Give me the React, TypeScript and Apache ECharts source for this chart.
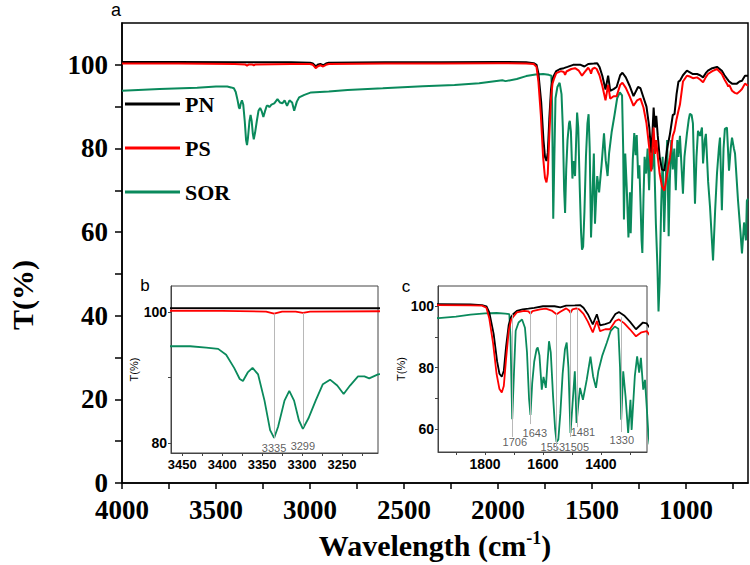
import React, { useEffect, useRef } from 'react';
import * as echarts from 'echarts';

// [wavenumber (cm-1), transmittance (%)]
const PN_SPECTRUM: number[][] = [
  [4000, 100.7], [3700, 100.7], [3400, 100.6], [3100, 100.6], [3000, 100.5], [2985, 100.3], [2975, 99.9],
  [2968, 99.6], [2960, 100.0], [2945, 100.2], [2930, 99.9], [2915, 100.3], [2900, 100.5], [2600, 100.6],
  [2300, 100.6], [2000, 100.7], [1850, 100.6], [1810, 100.4], [1795, 100.0], [1785, 98], [1770, 91],
  [1758, 82], [1750, 78], [1742, 77], [1735, 79], [1727, 87], [1718, 94], [1710, 96.5], [1703, 97.4],
  [1690, 98.5], [1670, 99], [1650, 99.2], [1630, 99.5], [1600, 100], [1560, 100], [1540, 99.6],
  [1520, 100.2], [1490, 100.3], [1472, 100.4], [1460, 99.5], [1445, 97.4], [1428, 94.1], [1414, 97.4],
  [1403, 93.8], [1385, 94.2], [1369, 94.7], [1350, 97.5], [1338, 98.1], [1320, 97], [1300, 95],
  [1279, 92.5], [1255, 94.7], [1242, 94.4], [1226, 92.2], [1210, 90], [1195, 85], [1185, 79],
  [1178, 84], [1172, 89.8], [1165, 85], [1158, 87.8], [1150, 83], [1140, 78], [1128, 75], [1115, 74.7],
  [1100, 80], [1085, 83.5], [1070, 88], [1061, 88.2], [1050, 93], [1040, 96], [1032, 96.2], [1016, 97.5],
  [995, 98.6], [979, 98.2], [963, 97.8], [941, 97.8], [925, 97.5], [909, 97], [895, 98], [883, 98.6],
  [860, 99.2], [835, 99.5], [809, 98.6], [795, 97.5], [782, 96.7], [770, 96], [755, 95.5], [740, 95.5],
  [729, 95.5], [715, 96], [702, 96.2], [686, 97.4], [670, 97.4],
];

const PS_SPECTRUM: number[][] = [
  [4000, 100.3], [3700, 100.3], [3400, 100.2], [3345, 100.1], [3335, 99.8], [3325, 100.1], [3308, 100.1],
  [3299, 99.9], [3290, 100.1], [3100, 100.2], [3000, 100.2], [2985, 100.0], [2975, 99.5], [2968, 99.2],
  [2960, 99.6], [2945, 99.9], [2930, 99.6], [2915, 100.0], [2900, 100.2], [2600, 100.3], [2300, 100.3],
  [2000, 100.4], [1850, 100.3], [1810, 100.2], [1795, 99.5], [1785, 96], [1772, 88], [1760, 78],
  [1750, 73], [1742, 71.9], [1735, 74], [1727, 83], [1718, 92], [1710, 95.5], [1703, 96.5], [1690, 98],
  [1665, 98.5], [1650, 98.3], [1643, 97.6], [1636, 98.4], [1610, 99], [1590, 99.2], [1570, 98.6],
  [1553, 97.4], [1540, 98.2], [1520, 99.3], [1510, 98.6], [1505, 97.9], [1498, 99], [1485, 99.3],
  [1475, 99], [1460, 97.5], [1445, 95], [1428, 91.5], [1414, 95.2], [1403, 91.9], [1385, 92.5],
  [1369, 92.5], [1350, 95.2], [1338, 95.7], [1320, 94.5], [1300, 92.5], [1279, 90.2], [1260, 91.5],
  [1242, 91.9], [1226, 89.8], [1210, 86], [1195, 80], [1185, 74.5], [1178, 80], [1172, 85], [1165, 78.7],
  [1158, 82], [1150, 78], [1140, 74], [1128, 71], [1115, 69.9], [1100, 74], [1085, 77.9], [1070, 83],
  [1061, 84.2], [1050, 87], [1040, 89], [1032, 90.5], [1016, 96], [995, 97.4], [979, 97.2], [963, 96.8],
  [941, 97], [925, 96.5], [909, 95.8], [895, 97], [883, 97.8], [860, 98.5], [835, 99], [809, 97.8],
  [795, 96.5], [782, 95.5], [775, 94.8], [770, 95.2], [755, 93.8], [740, 93.3], [729, 93.1], [715, 93.6],
  [702, 94.2], [686, 95.5], [670, 95],
];

const SOR_SPECTRUM: number[][] = [
  [4000, 93.8], [3800, 94.2], [3600, 94.5], [3500, 94.8], [3463, 94.8], [3440, 94.8], [3420, 94.6],
  [3405, 94.4], [3395, 93.5], [3385, 91.5], [3378, 89.8], [3374, 89.5], [3368, 90.8], [3362, 91.5],
  [3355, 90.5], [3347, 86.5], [3340, 82], [3335, 80.8], [3330, 82.5], [3322, 86.5], [3316, 88],
  [3310, 86.5], [3304, 83.5], [3299, 82.2], [3292, 83.8], [3283, 86.5], [3274, 89], [3265, 89.7],
  [3256, 88.8], [3248, 87.5], [3240, 88.8], [3230, 90.2], [3222, 90.2], [3216, 89.9], [3205, 90.5],
  [3190, 90.8], [3173, 91.8], [3160, 91], [3147, 90.8], [3135, 91.5], [3122, 90.2], [3109, 91.5],
  [3095, 91], [3084, 89], [3070, 91.2], [3058, 92.2], [3030, 92.8], [2994, 93.4], [2900, 93.6],
  [2800, 94], [2613, 94.4], [2400, 94.9], [2231, 95.2], [2100, 95.6], [1977, 96.3], [1960, 96.1],
  [1900, 96.6], [1850, 97.3], [1800, 97.7], [1760, 97.8], [1730, 97.6], [1716, 97.4], [1712, 90],
  [1706, 63.2], [1700, 78], [1694, 92], [1684, 94.7], [1672, 95.7], [1662, 93], [1655, 85], [1648, 70],
  [1643, 64.6], [1637, 75], [1630, 82], [1622, 86], [1618, 86.6], [1612, 84], [1604, 72.8], [1598, 77],
  [1590, 73.4], [1584, 82], [1579, 88.6], [1573, 85], [1565, 70.6], [1558, 60], [1553, 55.8],
  [1547, 56.5], [1540, 65], [1532, 78], [1524, 86], [1518, 88.2], [1512, 80], [1505, 58.7], [1498, 68],
  [1490, 78.8], [1484, 62], [1478, 68], [1472, 73.4], [1462, 69.5], [1449, 76], [1436, 83.6],
  [1427, 77.2], [1417, 73.4], [1409, 78.8], [1395, 84], [1380, 88], [1366, 92], [1352, 93.4],
  [1340, 92.7], [1334, 80], [1330, 63], [1323, 78.8], [1315, 70.6], [1306, 58.7], [1298, 69.5],
  [1294, 59.7], [1283, 77.2], [1275, 83.7], [1268, 78.4], [1262, 83.2], [1254, 72.8], [1248, 76],
  [1242, 67.3], [1236, 58], [1232, 55], [1226, 68], [1220, 78], [1212, 74], [1204, 80], [1196, 70],
  [1188, 82], [1180, 75], [1170, 80], [1160, 62], [1152, 52], [1146, 41], [1140, 48], [1132, 66],
  [1124, 78], [1116, 60], [1108, 72], [1100, 82], [1092, 59], [1086, 72], [1078, 82], [1070, 75],
  [1062, 80], [1054, 70], [1046, 82], [1040, 78], [1032, 83], [1024, 76], [1016, 69.2], [1008, 78],
  [995, 83.5], [985, 87], [979, 88.3], [970, 88], [963, 86], [952, 66.8], [944, 78], [936, 84.2],
  [925, 83], [915, 85], [909, 76.4], [900, 82], [894, 83.5], [882, 72], [872, 66], [856, 53.2],
  [845, 65], [835, 74], [825, 80], [819, 82.6], [809, 65.2], [800, 80], [793, 84.7], [782, 85],
  [771, 74.7], [762, 80], [755, 82.6], [745, 80], [739, 78.8], [723, 67.5], [710, 60], [702, 54.9],
  [691, 62.3], [681, 58], [676, 67.5], [670, 68],
];

const SERIES_NAMES = ['PN', 'PS', 'SOR'];
const SERIES_COLORS = ['#000000', '#ff0000', '#0a8a5c'];

// main axis ticks / labels
const MAIN_X_TICKS = [750, 1000, 1250, 1500, 1750, 2000, 2250, 2500, 2750, 3000, 3250, 3500, 3750, 4000];
const MAIN_X_LABELS = [1000, 1500, 2000, 2500, 3000, 3500, 4000];
const MAIN_Y_TICKS = [0, 10, 20, 30, 40, 50, 60, 70, 80, 90, 100];
const MAIN_Y_LABELS = [0, 20, 40, 60, 80, 100];

// inset b
const B_X_TICKS = [3225, 3250, 3275, 3300, 3325, 3350, 3375, 3400, 3425, 3450];
const B_X_LABELS = [3250, 3300, 3350, 3400, 3450];
const B_Y_TICKS = [80, 90, 100];
const B_Y_LABELS = [80, 100];
const B_PEAKS = [3335, 3299];
const B_LINE_TOP = [99.8, 99.9];
const B_LINE_BOTTOM = [80.8, 82.5];
const B_LABEL_T = [79.3, 79.5];

// inset c
const C_X_TICKS = [1300, 1400, 1500, 1600, 1700, 1800, 1900];
const C_X_LABELS = [1400, 1600, 1800];
const C_Y_TICKS = [60, 70, 80, 90, 100];
const C_Y_LABELS = [60, 80, 100];
const C_PEAKS = [1706, 1643, 1553, 1505, 1481, 1330];
const C_LINE_TOP = [97.4, 98.4, 97.7, 98.8, 99.3, 96.4];
const C_LINE_BOTTOM = [57.4, 61.6, 53.1, 57.4, 60.6, 59];
const C_LABEL_X = [1697, 1628, 1566, 1483, 1462, 1328];
const C_LABEL_T = [55.7, 58.7, 54.1, 54.1, 59, 56.4];

const SERIF = '"Liberation Serif", "Times New Roman", serif';
const SANS = '"Liberation Sans", Arial, sans-serif';

const plain = (v: number) => String(v);

export default function App() {
  const ref = useRef<HTMLDivElement>(null);
  useEffect(() => {
    const chart = echarts.init(ref.current!, null, { renderer: 'svg' });
    const spectra = [PN_SPECTRUM, PS_SPECTRUM, SOR_SPECTRUM];
    const drawOrder = [2, 0, 1];

    const lineSeries: any[] = [];
    [0, 1, 2].forEach((gi) => {
      drawOrder.forEach((si) => {
        lineSeries.push({
          type: 'line',
          name: SERIES_NAMES[si],
          data: spectra[si],
          xAxisIndex: gi,
          yAxisIndex: gi,
          showSymbol: false,
          symbol: 'none',
          clip: true,
          silent: true,
          lineStyle: { color: SERIES_COLORS[si], width: gi === 0 ? 2 : 1.8 },
          itemStyle: { color: SERIES_COLORS[si] },
        });
      });
    });

    const annoLabel = { show: true, position: 'inside', formatter: '{b}', fontSize: 11, fontFamily: SANS, color: '#333', textBorderWidth: 0 };
    const annoLine = { silent: true, symbol: ['none', 'none'], label: { show: false }, lineStyle: { color: '#b8b8b8', width: 1, type: 'solid' } };

    const annoSeries = [
      {
        type: 'scatter', xAxisIndex: 1, yAxisIndex: 1, symbolSize: 0, silent: true,
        itemStyle: { color: '#333' },
        data: B_PEAKS.map((w, i) => ({ name: String(w), value: [w, B_LABEL_T[i]] })),
        label: annoLabel,
        markLine: { ...annoLine, data: B_PEAKS.map((w, i) => [{ coord: [w, B_LINE_TOP[i]] }, { coord: [w, B_LINE_BOTTOM[i]] }]) },
      },
      {
        type: 'scatter', xAxisIndex: 2, yAxisIndex: 2, symbolSize: 0, silent: true,
        itemStyle: { color: '#333' },
        data: C_PEAKS.map((w, i) => ({ name: String(w), value: [C_LABEL_X[i], C_LABEL_T[i]] })),
        label: annoLabel,
        markLine: { ...annoLine, data: C_PEAKS.map((w, i) => [{ coord: [w, C_LINE_TOP[i]] }, { coord: [w, C_LINE_BOTTOM[i]] }]) },
      },
    ];

    const insetAxisLine = { show: true, onZero: false, lineStyle: { color: '#444', width: 1 } };
    const insetTick = (vals: number[]) => ({ show: true, inside: false, length: 3, lineStyle: { color: '#444', width: 1 }, customValues: vals });
    const insetLabel = (vals: number[], size: number, margin: number) => ({
      customValues: vals, formatter: plain, fontFamily: SANS, fontWeight: 'bold', fontSize: size, color: '#000', margin,
    });

    const option: any = {
      animation: false,
      backgroundColor: '#fff',
      grid: [
        { left: 122, top: 23, width: 626, height: 460, show: true, borderColor: '#000', borderWidth: 1.5, backgroundColor: 'transparent' },
        { left: 171, top: 286, width: 207, height: 167, show: true, borderColor: '#444', borderWidth: 1, backgroundColor: 'transparent' },
        { left: 438, top: 286, width: 209, height: 166, show: true, borderColor: '#444', borderWidth: 1, backgroundColor: 'transparent' },
      ],
      xAxis: [
        {
          type: 'value', gridIndex: 0, min: 670, max: 4000, inverse: true,
          axisLine: { show: true, onZero: false, lineStyle: { color: '#000', width: 1.5 } },
          axisTick: { show: true, inside: false, length: 6, lineStyle: { color: '#000', width: 1.5 }, customValues: MAIN_X_TICKS },
          axisLabel: { customValues: MAIN_X_LABELS, formatter: plain, fontFamily: SERIF, fontWeight: 'bold', fontSize: 27, lineHeight: 24, color: '#000', margin: 15 },
          splitLine: { show: false },
        },
        {
          type: 'value', gridIndex: 1, min: 3205, max: 3464, inverse: true,
          axisLine: insetAxisLine, axisTick: insetTick(B_X_TICKS), axisLabel: insetLabel(B_X_LABELS, 13, 5),
          splitLine: { show: false },
        },
        {
          type: 'value', gridIndex: 2, min: 1241, max: 1962, inverse: true,
          axisLine: insetAxisLine, axisTick: insetTick(C_X_TICKS), axisLabel: insetLabel(C_X_LABELS, 14, 5),
          splitLine: { show: false },
        },
      ],
      yAxis: [
        {
          type: 'value', gridIndex: 0, min: 0, max: 110,
          axisLine: { show: true, onZero: false, lineStyle: { color: '#000', width: 1.5 } },
          axisTick: { show: true, inside: false, length: 7, lineStyle: { color: '#000', width: 1.5 }, customValues: MAIN_Y_TICKS },
          axisLabel: { customValues: MAIN_Y_LABELS, formatter: plain, fontFamily: SERIF, fontWeight: 'bold', fontSize: 27, lineHeight: 20, color: '#000', margin: 14 },
          splitLine: { show: false },
        },
        {
          type: 'value', gridIndex: 1, min: 78.5, max: 104,
          axisLine: insetAxisLine, axisTick: insetTick(B_Y_TICKS), axisLabel: insetLabel(B_Y_LABELS, 14, 4),
          splitLine: { show: false },
          name: 'T(%)', nameLocation: 'middle', nameRotate: 90, nameGap: 24,
          nameTextStyle: { fontFamily: SANS, fontSize: 11, color: '#000' },
        },
        {
          type: 'value', gridIndex: 2, min: 52.5, max: 106.6,
          axisLine: insetAxisLine, axisTick: insetTick(C_Y_TICKS), axisLabel: insetLabel(C_Y_LABELS, 14, 4),
          splitLine: { show: false },
          name: 'T(%)', nameLocation: 'middle', nameRotate: 90, nameGap: 22,
          nameTextStyle: { fontFamily: SANS, fontSize: 11, color: '#000' },
        },
      ],
      legend: {
        data: SERIES_NAMES,
        orient: 'vertical',
        left: 125,
        top: 93,
        padding: 0,
        itemGap: 22,
        itemWidth: 55,
        itemHeight: 3,
        icon: 'rect',
        selectedMode: false,
        textStyle: { fontFamily: SERIF, fontWeight: 'bold', fontSize: 22, lineHeight: 22, color: '#000' },
      },
      graphic: [
        {
          type: 'text', x: 22, y: 295, rotation: Math.PI / 2,
          style: { text: 'T(%)', fontFamily: SERIF, fontWeight: 'bold', fontSize: 30, fill: '#000', align: 'center', verticalAlign: 'middle' },
        },
        {
          type: 'text', x: 435, y: 545,
          style: {
            text: 'Wavelength (cm{sup|-1})', fontFamily: SERIF, fontWeight: 'bold', fontSize: 30, fill: '#000',
            align: 'center', verticalAlign: 'middle', lineHeight: 32,
            rich: { sup: { fontFamily: SERIF, fontWeight: 'bold', fontSize: 18, fill: '#000', verticalAlign: 'top', lineHeight: 32, padding: [0, 0, 14, 0] } },
          },
        },
        { type: 'text', x: 116, y: 10, style: { text: 'a', fontFamily: SANS, fontSize: 18, fill: '#000', align: 'center', verticalAlign: 'middle' } },
        { type: 'text', x: 145, y: 285, style: { text: 'b', fontFamily: SANS, fontSize: 17, fill: '#000', align: 'center', verticalAlign: 'middle' } },
        { type: 'text', x: 406, y: 286, style: { text: 'c', fontFamily: SANS, fontSize: 17, fill: '#000', align: 'center', verticalAlign: 'middle' } },
      ],
      series: [...annoSeries, ...lineSeries],
    };
    chart.setOption(option);
    return () => chart.dispose();
  }, []);
  return <div ref={ref} style={{ position: 'fixed', left: 0, top: 0, width: 750, height: 565 }} />;
}
